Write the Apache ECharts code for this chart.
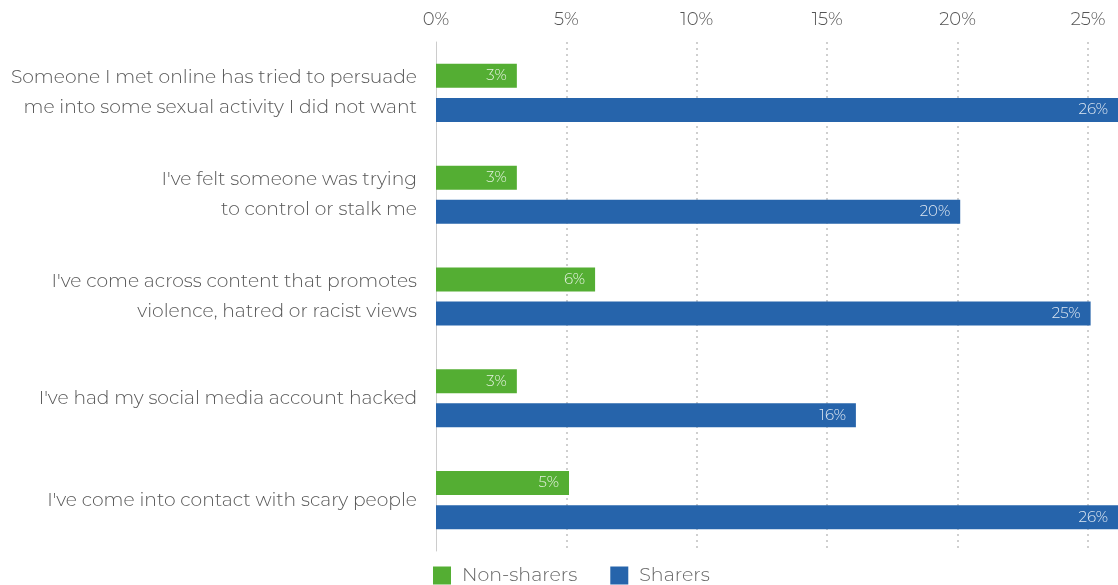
<!DOCTYPE html>
<html><head><meta charset="utf-8">
<script src="https://cdn.jsdelivr.net/npm/echarts@6/dist/echarts.min.js"></script>
<style>html,body{margin:0;padding:0;background:#fff}#c{width:1118px;height:585px}</style>
</head><body><div id="c"></div>
<script>
const categories = [
  "Someone I met online has tried to persuade\nme into some sexual activity I did not want",
  "I've felt someone was trying\nto control or stalk me",
  "I've come across content that promotes\nviolence, hatred or racist views",
  "I've had my social media account hacked",
  "I've come into contact with scary people"
];
const nonSharers = [3.1, 3.1, 6.1, 3.1, 5.1];
const sharers = [26.2, 20.1, 25.1, 16.1, 26.2];
const seriesNames = ["Non-sharers", "Sharers"];

const FONT = 'Montserrat, "Open Sans", Lato, sans-serif';
const chart = echarts.init(document.getElementById('c'));
const barLabel = {
  show: true, position: 'insideRight', distance: 10,
  color: 'rgba(255,255,255,0.85)', fontSize: 15, fontFamily: FONT, fontWeight: 300,
  formatter: p => Math.round(p.value) + '%'
};
chart.setOption({
  animation: false,
  textStyle: {fontFamily: FONT},
  grid: {left: 436, right: 0, top: 42, bottom: 34, containLabel: false},
  legend: {
    data: seriesNames, left: 428, top: 561, itemWidth: 18, itemHeight: 18, itemGap: 33,
    icon: 'rect',
    textStyle: {fontSize: 19, color: '#666', fontFamily: FONT, fontWeight: 300, padding: [0,0,0,6]}
  },
  xAxis: {
    type: 'value', position: 'top', min: 0, max: 26.15, interval: 5,
    axisLine: {show: false}, axisTick: {show: false},
    axisLabel: {formatter: v => v + '%', color: '#555', fontSize: 18, fontFamily: FONT, fontWeight: 300, margin: 13, showMaxLabel: false},
    splitLine: {show: true, showMinLine: false, showMaxLine: false, lineStyle: {color: '#cfcfcf', type: [2, 4], width: 2}}
  },
  yAxis: {
    type: 'category', data: categories, inverse: true,
    axisLine: {show: true, lineStyle: {color: '#cccccc', width: 1}},
    axisTick: {show: false},
    axisLabel: {color: '#555', fontSize: 18.7, fontFamily: FONT, fontWeight: 300, margin: 19, lineHeight: 30, align: 'right'}
  },
  series: [
    {name: seriesNames[0], type: 'bar', data: nonSharers, barWidth: 24, barGap: '42%',
     itemStyle: {color: '#54ae33'}, label: barLabel},
    {name: seriesNames[1], type: 'bar', data: sharers, barWidth: 24, barGap: '42%',
     itemStyle: {color: '#2664ab'}, label: barLabel}
  ]
});
</script></body></html>
